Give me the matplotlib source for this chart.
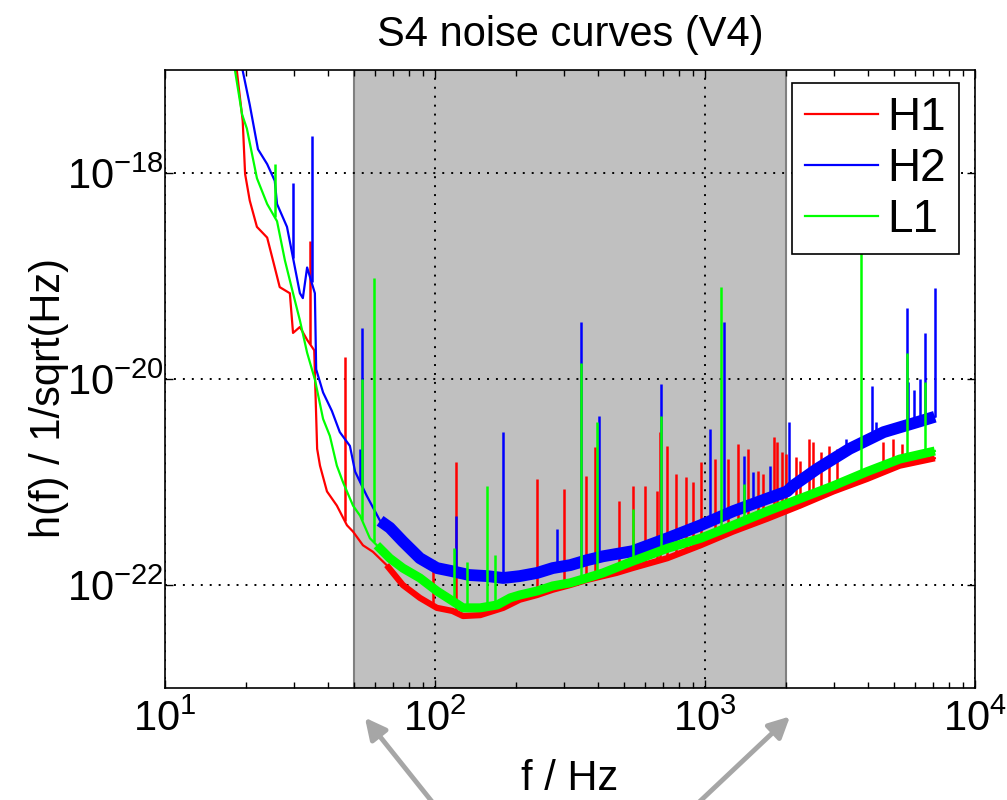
import numpy as np
import matplotlib.pyplot as plt
from matplotlib.ticker import FixedLocator, NullLocator, LogLocator, LogFormatterMathtext

plt.rcParams['font.family'] = ['Liberation Sans', 'DejaVu Sans']
plt.rcParams['mathtext.fontset'] = 'custom'
plt.rcParams['mathtext.rm'] = 'Liberation Sans'
plt.rcParams['mathtext.it'] = 'Liberation Sans:italic'
plt.rcParams['mathtext.default'] = 'regular'

# 데이터 ---------------------------------------------------------
# H1 (red)
h1_f = [18.3, 18.6, 19.4, 19.8, 20.6, 21.9, 23.9, 25.5, 26.6, 29.0, 29.8, 31.6, 33.6, 35.7, 36.6,
        37.5, 39.8, 43.3, 47.2, 49.7, 54.1, 58.9, 66.2, 76.0, 87.9, 101.6, 116, 127, 147, 179, 206,
        239, 273, 317, 365, 419, 470, 539, 725, 963, 1270, 1700, 2250, 2990, 3980, 5260, 7100]
h1_h = [1.2e-17, 8.2e-18, 3.2e-18, 9.8e-19, 5.4e-19, 3.0e-19, 2.36e-19, 1.21e-19, 7.8e-20, 6.8e-20,
        2.8e-20, 3.2e-20, 2.4e-20, 1.9e-20, 2.1e-21, 1.44e-21, 8.1e-22, 5.9e-22, 3.8e-22, 3.3e-22,
        2.43e-22, 2.1e-22, 1.56e-22, 1.0e-22, 7.5e-23, 6.0e-23, 5.6e-23, 5.0e-23, 5.1e-23, 6.0e-23,
        7.2e-23, 8.0e-23, 9.0e-23, 1.0e-22, 1.12e-22, 1.22e-22, 1.31e-22, 1.46e-22, 1.82e-22,
        2.43e-22, 3.3e-22, 4.4e-22, 5.9e-22, 8.1e-22, 1.07e-21, 1.44e-21, 1.7e-21]
h1_spike_f = [34.5, 46.4, 98, 120, 239, 300, 363, 392, 480, 539, 600, 662, 679, 725, 780, 850, 900,
              965, 1090, 1220, 1330, 1440, 1570, 1640, 1800, 1850, 1930, 2000, 2180, 2250, 2420,
              2510, 2690, 2870, 3070, 4570, 4980, 5380]
h1_spike_h = [2.2e-19, 1.65e-20, 1.36e-22, 1.57e-21, 1.07e-21, 8.6e-22, 1.15e-21, 2.2e-21, 6.5e-22,
              9.2e-22, 9.2e-22, 8.1e-22, 3.05e-21, 2.24e-21, 1.2e-21, 1.12e-21, 1.0e-21, 1.57e-21,
              1.67e-21, 1.67e-21, 2.34e-21, 2.1e-21, 1.28e-21, 1.2e-21, 2.73e-21, 2.44e-21, 1.96e-21,
              1.87e-21, 1.75e-21, 1.6e-21, 2.6e-21, 2.44e-21, 1.96e-21, 2.24e-21, 2.1e-21, 2.44e-21,
              2.6e-21, 2.34e-21]

# H2 (blue)
h2_f = [19.1, 20.6, 22.1, 23.9, 25.5, 26.0, 28.3, 31.6, 32.4, 33.6, 35.9, 36.3, 38.5, 41.5, 44.4,
        48.4, 50.6, 55.8, 62.6, 68.0, 76.0, 87.9, 101.6, 116, 134, 156, 179, 206, 239, 273, 317,
        365, 419, 539, 725, 963, 1270, 1700, 2013, 2120, 2600, 3430, 4590, 6080, 7100]
h2_h = [1.2e-17, 4.6e-18, 1.7e-18, 1.22e-18, 8.4e-19, 5.0e-19, 3.0e-19, 6.8e-20, 6.1e-20, 1.21e-19,
        6.8e-20, 1.24e-20, 7.4e-21, 4.9e-21, 3.05e-21, 2.24e-21, 1.26e-21, 7.4e-22, 4.2e-22, 3.6e-22,
        2.65e-22, 1.82e-22, 1.46e-22, 1.36e-22, 1.25e-22, 1.22e-22, 1.17e-22, 1.22e-22, 1.31e-22,
        1.46e-22, 1.56e-22, 1.74e-22, 1.9e-22, 2.13e-22, 2.84e-22, 3.8e-22, 5.2e-22, 6.9e-22,
        8.1e-22, 9.2e-22, 1.34e-21, 2.1e-21, 3.05e-21, 3.8e-21, 4.3e-21]
h2_spike_f = [29.8, 34.9, 52.8, 53.6, 120, 179, 283, 346, 405, 690, 1040, 1180, 1400, 1500, 1740,
              2040, 3340, 4170, 4300, 5600, 5650, 5950, 6240, 6540, 7100]
h2_spike_h = [8.0e-19, 2.3e-18, 2.1e-21, 3.1e-20, 4.7e-22, 3.05e-21, 3.5e-22, 3.6e-20, 4.35e-21,
              8.9e-21, 3.26e-21, 3.6e-20, 1.79e-21, 1.26e-21, 1.44e-21, 3.8e-21, 2.6e-21, 8.5e-21,
              3.8e-21, 4.9e-20, 9.3e-21, 7.9e-21, 9.9e-21, 2.8e-20, 7.6e-20]

# L1 (green)
l1_f = [17.9, 18.2, 19.3, 20.1, 21.9, 23.9, 26.0, 27.8, 29.8, 31.6, 33.6, 35.9, 38.5, 40.8, 43.3,
        45.6, 49.7, 52.8, 57.4, 60.9, 68.0, 76.0, 87.9, 101.6, 116, 127, 147, 170, 190, 206, 239,
        273, 317, 365, 419, 539, 725, 963, 1270, 1700, 2250, 2990, 3980, 5260, 7100]
l1_h = [1.2e-17, 9.6e-18, 3.7e-18, 2.7e-18, 8.9e-19, 5.0e-19, 3.4e-19, 1.42e-19, 6.8e-20, 3.7e-20,
        1.8e-20, 9.9e-21, 4.1e-21, 2.8e-21, 1.44e-21, 1.0e-21, 5.9e-22, 4.7e-22, 2.84e-22, 2.43e-22,
        1.82e-22, 1.46e-22, 1.17e-22, 8.75e-23, 7.0e-23, 6.0e-23, 6.0e-23, 6.4e-23, 7.5e-23, 8.0e-23,
        8.75e-23, 9.8e-23, 1.05e-22, 1.17e-22, 1.31e-22, 1.70e-22, 2.27e-22, 2.84e-22, 3.8e-22,
        5.2e-22, 6.9e-22, 9.2e-22, 1.26e-21, 1.67e-21, 2.0e-21]
l1_spike_f = [25.5, 53.6, 59.4, 118, 131, 156, 167, 346, 399, 539, 690, 1150, 1400, 3780, 5600, 6540]
l1_spike_h = [1.22e-18, 1.0e-20, 9.5e-20, 2.27e-22, 1.67e-22, 9.2e-22, 1.95e-22, 1.44e-20, 3.8e-21,
              5.5e-22, 4.35e-21, 7.8e-20, 9.6e-22, 2.5e-19, 1.8e-20, 9.3e-21]

labels = ['H1', 'H2', 'L1']
colors = ['#ff0000', '#0000ff', '#00ff00']
band_f = [50, 2000]   # 회색 영역

# 그래프 ---------------------------------------------------------------
fig = plt.figure(figsize=(10.07, 8), dpi=100)
ax = fig.add_axes([165 / 1007, 112 / 800, 810 / 1007, 618 / 800])
ax.set_xscale('log')
ax.set_yscale('log')

ax.axvspan(band_f[0], band_f[1], facecolor='#c0c0c0', edgecolor='#808080', lw=1.5, zorder=1)

curves = [(h1_f, h1_h, h1_spike_f, h1_spike_h, 4.5),
          (h2_f, h2_h, h2_spike_f, h2_spike_h, 8.5),
          (l1_f, l1_h, l1_spike_f, l1_spike_h, 6.5)]
for (f, h, sf, sh, thick), color, label in zip(curves, colors, labels):
    f = np.array(f)
    h = np.array(h)
    ax.plot(f, h, color=color, lw=1.6, label=label)
    dense = f >= 60
    ax.plot(f[dense], h[dense], color=color, lw=thick, solid_capstyle='butt')
    base = 10 ** np.interp(np.log10(sf), np.log10(f), np.log10(h))
    ax.vlines(sf, base, sh, color=color, lw=1.8)

ax.set_xlim(10, 1e4)
ax.set_ylim(1e-23, 1e-17)

ax.xaxis.set_major_locator(LogLocator(base=10, numticks=10))
ax.xaxis.set_minor_locator(LogLocator(base=10, subs=np.arange(2, 10), numticks=20))
ax.yaxis.set_major_locator(FixedLocator([1e-22, 1e-20, 1e-18]))
ax.yaxis.set_minor_locator(NullLocator())
ax.xaxis.set_major_formatter(LogFormatterMathtext())
ax.yaxis.set_major_formatter(LogFormatterMathtext())

ax.set_axisbelow('line')
ax.grid(True, which='major', color='black', lw=1.4, linestyle=(0, (1, 3.6)))

ax.tick_params(which='both', direction='in', top=True, right=True, width=1, labelsize=30)
ax.tick_params(which='major', length=6)
ax.tick_params(which='minor', length=4)
ax.tick_params(axis='x', pad=8)
ax.tick_params(axis='y', pad=1)
for s in ax.spines.values():
    s.set_linewidth(1.2)

ax.set_title('S4 noise curves (V4)', fontsize=30, pad=17)
ax.set_xlabel('f / Hz', fontsize=30)
ax.xaxis.set_label_coords(0.5, -0.115)
ax.set_ylabel('h(f) / 1/sqrt(Hz)', fontsize=30)
ax.yaxis.set_label_coords(-0.118, 0.47)

leg = ax.legend(loc='upper right', bbox_to_anchor=(0.980, 0.979), borderaxespad=0, fontsize=33,
                fancybox=False, edgecolor='black', framealpha=1, handlelength=1.6,
                labelspacing=0.15, borderpad=0.28, handletextpad=0.2)
leg.get_frame().set_linewidth(1.2)

# 아래쪽 화살표 (회색 영역 경계 표시)
arrow_kw = dict(arrowstyle='-|>,head_length=0.7,head_width=0.35', color='#a6a6a6', lw=3.5,
                mutation_scale=18, shrinkA=0, shrinkB=0)
ax.annotate('', xy=(55, -0.048), xycoords=('data', 'axes fraction'),
            xytext=(0.434, -0.01), textcoords='figure fraction',
            arrowprops=arrow_kw, annotation_clip=False)
ax.annotate('', xy=(2065, -0.046), xycoords=('data', 'axes fraction'),
            xytext=(0.688, -0.01), textcoords='figure fraction',
            arrowprops=arrow_kw, annotation_clip=False)

fig.savefig('out.png', dpi=100)
